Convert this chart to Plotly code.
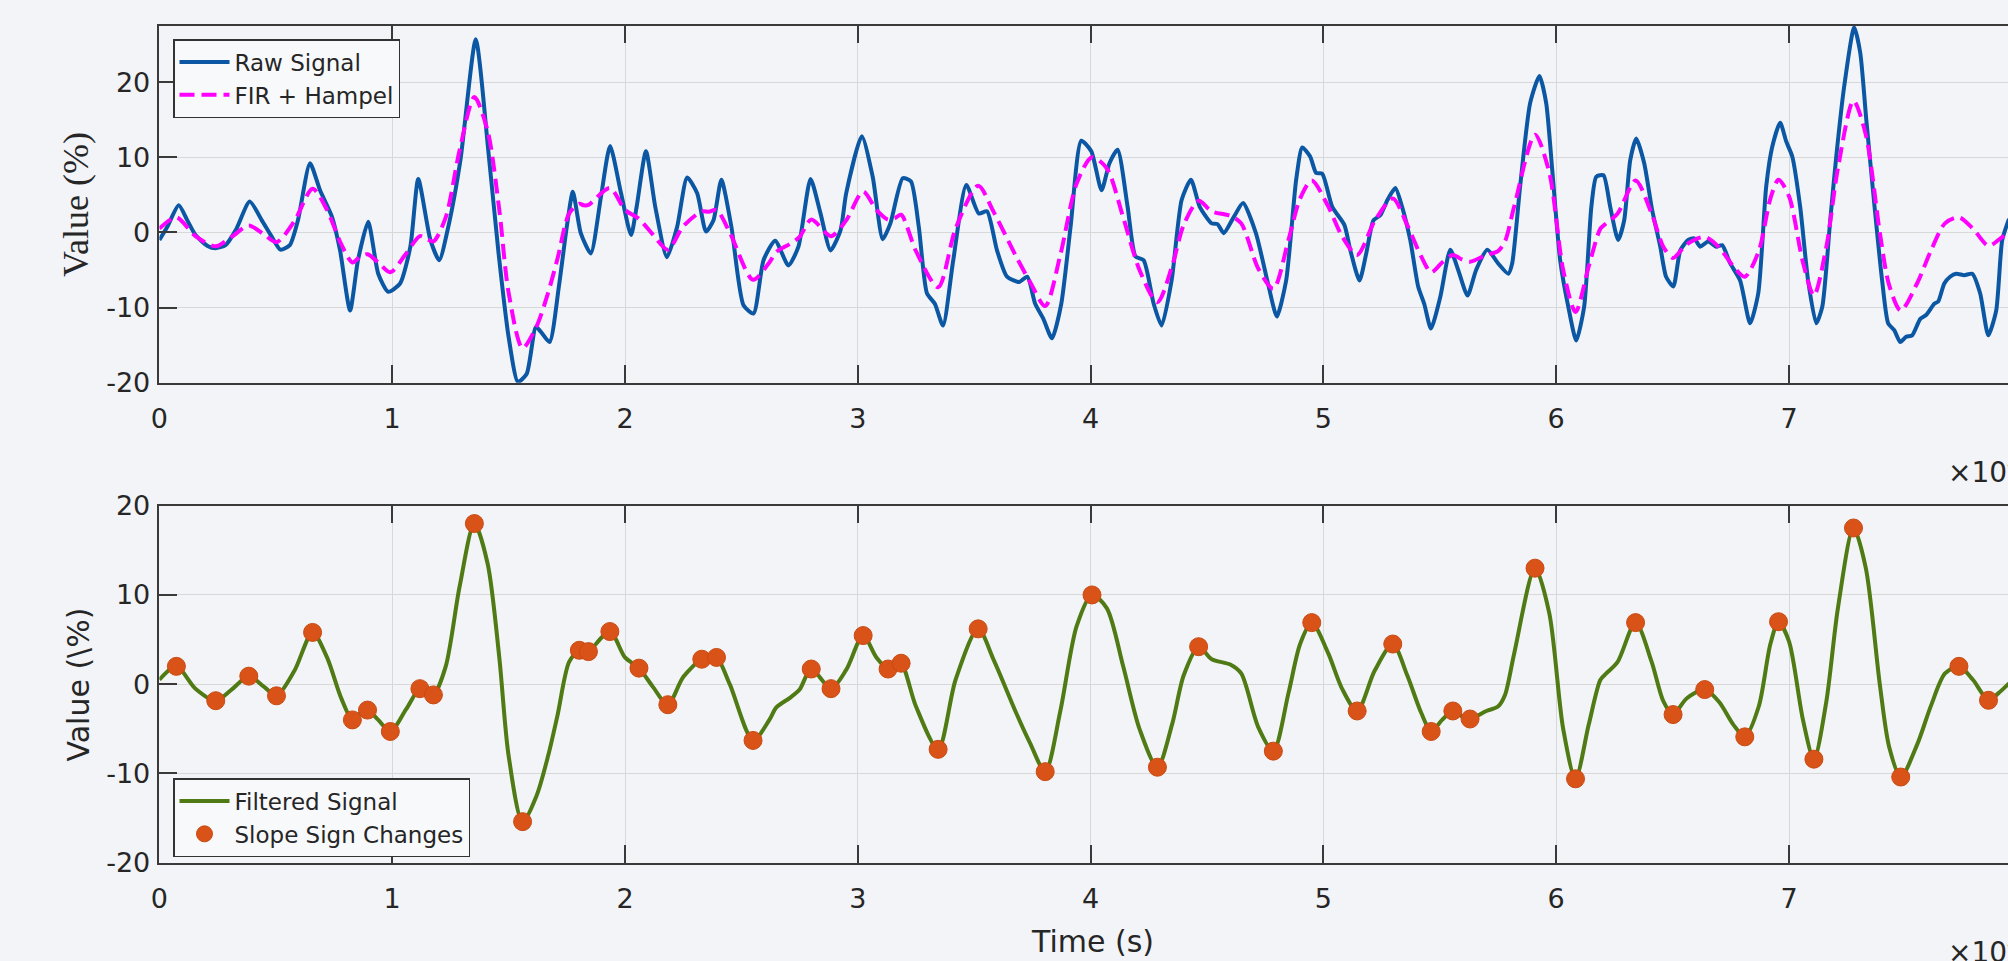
import plotly.graph_objects as go

# ---------------- data (time axis in units of 1e4 s) ----------------
RAW_X = [0.0, 0.034, 0.083, 0.12, 0.155, 0.207, 0.241, 0.284, 0.328, 0.388, 0.44, 0.483, 0.52, 0.56, 0.595,
         0.647, 0.69, 0.741, 0.776, 0.819, 0.853, 0.897, 0.94, 0.983, 1.034, 1.078, 1.112, 1.164, 1.202, 1.241,
         1.293, 1.359, 1.414, 1.457, 1.5, 1.54, 1.578, 1.617, 1.638, 1.676, 1.716, 1.75, 1.776, 1.81, 1.853,
         1.897, 1.936, 1.983, 2.026, 2.05, 2.09, 2.13, 2.18, 2.224, 2.267, 2.31, 2.348, 2.38, 2.414, 2.457,
         2.509, 2.552, 2.595, 2.645, 2.702, 2.745, 2.797, 2.84, 2.883, 2.926, 2.95, 3.017, 3.064, 3.107, 3.14,
         3.193, 3.228, 3.262, 3.297, 3.331, 3.366, 3.41, 3.466, 3.52, 3.555, 3.598, 3.641, 3.693, 3.728, 3.762,
         3.797, 3.834, 3.874, 3.914, 3.96, 4.003, 4.047, 4.081, 4.116, 4.159, 4.193, 4.228, 4.271, 4.305, 4.348,
         4.391, 4.431, 4.469, 4.52, 4.545, 4.572, 4.616, 4.655, 4.71, 4.762, 4.8, 4.84, 4.883, 4.909, 4.943,
         4.969, 4.995, 5.038, 5.09, 5.116, 5.155, 5.184, 5.215, 5.245, 5.275, 5.309, 5.338, 5.373, 5.407, 5.433,
         5.462, 5.502, 5.545, 5.579, 5.619, 5.656, 5.704, 5.75, 5.794, 5.811, 5.845, 5.888, 5.928, 5.957, 5.983,
         6.017, 6.052, 6.086, 6.12, 6.151, 6.172, 6.203, 6.232, 6.266, 6.292, 6.318, 6.344, 6.378, 6.412, 6.447,
         6.472, 6.503, 6.533, 6.567, 6.593, 6.619, 6.653, 6.687, 6.713, 6.747, 6.79, 6.833, 6.868, 6.902, 6.928,
         6.962, 6.988, 7.014, 7.048, 7.082, 7.117, 7.143, 7.177, 7.203, 7.237, 7.28, 7.306, 7.332, 7.366, 7.4,
         7.426, 7.452, 7.478, 7.503, 7.529, 7.564, 7.589, 7.624, 7.641, 7.667, 7.692, 7.718, 7.753, 7.787, 7.821,
         7.856, 7.89, 7.916, 7.945]
RAW_Y = [-1.0, 0.75, 3.6, 1.6, -0.35, -1.8, -2.1, -1.7, 0.3, 4.1, 1.6, -0.6, -2.3, -1.7, 1.6,
         9.2, 5.6, 2.1, -2.4, -10.4, -3.7, 1.4, -5.5, -7.9, -6.8, -1.9, 7.1, -1.0, -3.7, 0.75,
         9.6, 25.7, 10.5, -2.8, -13.9, -19.9, -18.8, -12.6, -13.2, -14.6, -7.2, 0.75, 5.4, -0.1, -2.8,
         4.8, 11.5, 5.2, -0.35, 3.4, 10.8, 3.4, -3.3, 0.75, 7.3, 5.2, 0.1, 1.6, 7.0, 0.75,
         -9.7, -10.8, -3.7, -1.1, -4.4, -1.9, 7.1, 2.5, -2.4, 0.3, 5.2, 12.8, 7.4, -0.9, 1.2,
         7.2, 6.8, 0.75, -8.1, -9.5, -12.4, -3.7, 6.3, 2.5, 2.8, -2.4, -5.9, -6.6, -5.9, -9.5,
         -11.5, -14.1, -9.5, 0.75, 12.2, 10.8, 5.6, 9.2, 11.0, 3.4, -3.2, -3.7, -9.5, -12.4, -6.4,
         4.3, 7.0, 3.4, 1.2, 1.1, -0.1, 2.1, 3.9, -0.1, -6.8, -11.2, -6.4, 7.0, 11.3, 10.1,
         7.9, 7.8, 3.4, 1.0, -2.4, -6.4, -2.8, 1.6, 2.3, 4.3, 5.9, 3.4, -1.0, -7.2, -9.5,
         -12.8, -8.6, -2.3, -5.0, -8.4, -5.0, -2.3, -4.1, -5.5, -4.1, 6.1, 17.2, 20.8, 17.2, 8.3,
         -3.7, -9.9, -14.4, -9.9, 3.4, 7.4, 7.6, 3.4, -1.0, 1.6, 9.6, 12.5, 9.2, 3.0, -1.9,
         -5.9, -7.2, -2.4, -1.0, -0.8, -1.9, -1.2, -1.9, -1.7, -4.1, -6.4, -12.1, -8.1, 6.1, 11.4,
         14.6, 12.1, 10.1, 3.4, -6.4, -12.1, -9.9, 1.6, 10.1, 19.4, 27.3, 23.9, 15.0, 3.9, -6.4,
         -12.1, -13.0, -14.6, -13.9, -13.7, -11.5, -11.0, -9.5, -9.2, -6.8, -5.9, -5.5, -5.7, -5.5, -8.1,
         -13.7, -10.4, -1.0, 1.8]

FILT_X = [0.0, 0.073, 0.155, 0.242, 0.31, 0.384, 0.45, 0.503, 0.58, 0.658, 0.72, 0.78, 0.829, 0.86, 0.894,
          0.94, 0.992, 1.06, 1.119, 1.15, 1.177, 1.23, 1.29, 1.353, 1.41, 1.46, 1.5, 1.56, 1.62, 1.67,
          1.71, 1.76, 1.804, 1.823, 1.843, 1.935, 2.0, 2.06, 2.12, 2.184, 2.25, 2.33, 2.36, 2.393, 2.45,
          2.55, 2.62, 2.65, 2.71, 2.75, 2.80, 2.885, 2.95, 3.023, 3.08, 3.13, 3.16, 3.186, 3.25, 3.345,
          3.42, 3.517, 3.584, 3.68, 3.74, 3.805, 3.87, 3.94, 4.006, 4.07, 4.14, 4.21, 4.287, 4.35, 4.40,
          4.464, 4.52, 4.60, 4.647, 4.72, 4.785, 4.85, 4.90, 4.95, 5.02, 5.08, 5.145, 5.22, 5.298, 5.36,
          5.42, 5.463, 5.51, 5.556, 5.595, 5.63, 5.70, 5.75, 5.78, 5.82, 5.909, 5.97, 6.03, 6.083, 6.14,
          6.19, 6.215, 6.264, 6.341, 6.41, 6.46, 6.502, 6.56, 6.638, 6.70, 6.76, 6.81, 6.87, 6.92, 6.955,
          7.0, 7.06, 7.107, 7.16, 7.21, 7.277, 7.33, 7.39, 7.43, 7.48, 7.55, 7.61, 7.67, 7.73, 7.79,
          7.857, 7.90, 7.945]
FILT_Y = [0.5, 2.0, -0.5, -1.85, -0.6, 0.9, -0.3, -1.3, 1.5, 5.8, 3.0, -1.5, -4.0, -3.3, -2.9,
          -4.0, -5.3, -2.8, -0.5, -0.9, -1.2, 2.0, 11.0, 18.0, 13.5, 3.0, -8.0, -15.4, -12.5, -8.0,
          -3.5, 2.5, 3.8, 3.6, 3.65, 5.9, 3.0, 1.8, -0.3, -2.3, 0.8, 2.8, 2.75, 3.0, 0.0,
          -6.3, -4.0, -2.6, -1.5, -0.6, 1.7, -0.5, 1.6, 5.45, 3.0, 1.7, 1.9, 2.35, -2.5, -7.3,
          0.5, 6.2, 2.7, -3.2, -6.6, -9.8, -3.0, 6.5, 10.0, 8.5, 2.0, -5.0, -9.3, -4.5, 1.0,
          4.2, 2.8, 2.2, 1.2, -4.8, -7.5, -1.0, 4.5, 6.9, 3.5, -0.5, -3.0, 1.5, 4.5, 1.0,
          -3.2, -5.3, -4.0, -3.0, -3.6, -3.9, -3.0, -2.5, -1.2, 3.5, 13.0, 8.0, -5.0, -10.6, -4.5,
          0.5, 1.2, 2.5, 6.9, 2.5, -1.9, -3.4, -1.6, -0.6, -2.0, -4.5, -5.9, -2.5, 4.5, 7.0,
          4.8, -4.0, -8.4, -2.0, 8.5, 17.5, 13.0, 0.0, -7.0, -10.4, -6.8, -2.4, 1.2, 2.0, 0.5,
          -1.8, -1.0, 0.1]

SSC_X = [0.073, 0.242, 0.384, 0.503, 0.658, 0.829, 0.894, 0.992, 1.119, 1.177, 1.353, 1.56, 1.804, 1.843,
         1.935, 2.06, 2.184, 2.33, 2.393, 2.55, 2.80, 2.885, 3.023, 3.13, 3.186, 3.345, 3.517, 3.805, 4.006,
         4.287, 4.464, 4.785, 4.95, 5.145, 5.298, 5.463, 5.556, 5.63, 5.909, 6.083, 6.341, 6.502, 6.638,
         6.81, 6.955, 7.107, 7.277, 7.48, 7.73, 7.857]
SSC_Y = [2.0, -1.85, 0.9, -1.3, 5.8, -4.0, -2.9, -5.3, -0.5, -1.2, 18.0, -15.4, 3.8, 3.65,
         5.9, 1.8, -2.3, 2.8, 3.0, -6.3, 1.7, -0.5, 5.45, 1.7, 2.35, -7.3, 6.2, -9.8, 10.0,
         -9.3, 4.2, -7.5, 6.9, -3.0, 4.5, -5.3, -3.0, -3.9, 13.0, -10.6, 6.9, -3.4, -0.6,
         -5.9, 7.0, -8.4, 17.5, -10.4, 2.0, -1.8]

X_TICKS = [0, 1, 2, 3, 4, 5, 6, 7]
Y_TICKS = [-20, -10, 0, 10, 20]
Y_TICK_TEXT = ["-20", "-10", "0", "10", "20"]

# ---------------- styling ----------------
W, H = 2008, 961
BLUE = "#0B57A4"
MAGENTA = "#FF00FF"
GREEN = "#4F7A14"
ORANGE = "#D95319"
AX = "#3A3A3A"
GRID = "#D8D8D8"
TXT = "#262626"
SANS = "DejaVu Sans"

fig = go.Figure()
fig.add_trace(go.Scatter(x=RAW_X, y=RAW_Y, mode="lines", name="Raw Signal",
                         line=dict(color=BLUE, width=4, shape="spline", smoothing=0.6),
                         xaxis="x", yaxis="y", legend="legend"))
fig.add_trace(go.Scatter(x=FILT_X, y=FILT_Y, mode="lines", name="FIR + Hampel",
                         line=dict(color=MAGENTA, width=4, dash="15px,7px", shape="spline", smoothing=0.8),
                         xaxis="x", yaxis="y", legend="legend"))
fig.add_trace(go.Scatter(x=FILT_X, y=FILT_Y, mode="lines", name="Filtered Signal",
                         line=dict(color=GREEN, width=4, shape="spline", smoothing=0.8),
                         xaxis="x2", yaxis="y2", legend="legend2"))
fig.add_trace(go.Scatter(x=SSC_X, y=SSC_Y, mode="markers", name="Slope Sign Changes",
                         marker=dict(color=ORANGE, size=18, line=dict(color="#C84A12", width=1)),
                         xaxis="x2", yaxis="y2", legend="legend2"))

XRANGE = [0, (W - 159.4) / 232.8]
xdom = [159.4 / W, 1.0]
top_dom = [1 - 382.7 / H, 1 - 25.7 / H]
bot_dom = [1 - 862.7 / H, 1 - 505.7 / H]

def xax(anchor):
    return dict(domain=xdom, range=XRANGE, anchor=anchor, tickmode="array", tickvals=X_TICKS,
                ticktext=[str(v) for v in X_TICKS], showgrid=True, gridcolor=GRID, gridwidth=1.2,
                zeroline=False, showline=True, linecolor=AX, linewidth=1.5, mirror="ticks",
                ticks="inside", ticklen=18, tickwidth=1.5, tickcolor=AX, automargin=False,
                tickfont=dict(family=SANS, size=27, color=TXT), ticklabelstandoff=11)

def yax(anchor, dom, rng):
    return dict(domain=dom, range=rng, anchor=anchor, tickmode="array", tickvals=Y_TICKS,
                ticktext=Y_TICK_TEXT, showgrid=True, gridcolor=GRID, gridwidth=1.2, zeroline=False,
                showline=True, linecolor=AX, linewidth=1.5, mirror=False, automargin=False,
                ticks="inside", ticklen=18, tickwidth=1.5, tickcolor=AX,
                tickfont=dict(family=SANS, size=27, color=TXT), ticklabelstandoff=2)

leg_common = dict(xanchor="left", yanchor="top", bgcolor="#F8F9FB", bordercolor="#333333",
                  borderwidth=1.5, font=dict(family=SANS, size=23, color=TXT),
                  tracegroupgap=0, itemwidth=50)

fig.update_layout(
    width=W, height=H, margin=dict(l=0, r=0, t=0, b=0, autoexpand=False),
    paper_bgcolor="#F2F4F7", plot_bgcolor="rgba(0,0,0,0)",
    xaxis=xax("y"), yaxis=yax("x", top_dom, [-20, 27.5]),
    xaxis2=xax("y2"), yaxis2=yax("x2", bot_dom, [-20, 20]),
    legend=dict(x=173 / W, y=1 - 39 / H, **leg_common),
    legend2=dict(x=173 / W, y=1 - 778 / H, **leg_common),
    showlegend=True,
)

ann = [
    dict(text="Value (%)", x=76 / W, y=1 - 205 / H, textangle=-90,
         font=dict(family="Liberation Serif", size=36, color=TXT)),
    dict(text="Value (\\%)", x=78 / W, y=1 - 684.5 / H, textangle=-90,
         font=dict(family=SANS, size=30, color=TXT)),
    dict(text="Time (s)", x=1092 / W, y=1 - 941.7 / H,
         font=dict(family=SANS, size=30, color=TXT)),
    dict(text="×10<sup>4</sup>", x=1946 / W, y=1 - 470 / H, xanchor="left",
         font=dict(family=SANS, size=28, color=TXT)),
    dict(text="×10<sup>4</sup>", x=1946 / W, y=1 - 950 / H, xanchor="left",
         font=dict(family=SANS, size=28, color=TXT)),
]
for a in ann:
    a.setdefault("xanchor", "center")
    a.update(xref="paper", yref="paper", yanchor="middle", showarrow=False)
fig.update_layout(annotations=ann)

fig.write_html("out.html", config={"displayModeBar": False},
               post_script="document.body.style.margin='0';document.body.style.overflow='hidden';")
